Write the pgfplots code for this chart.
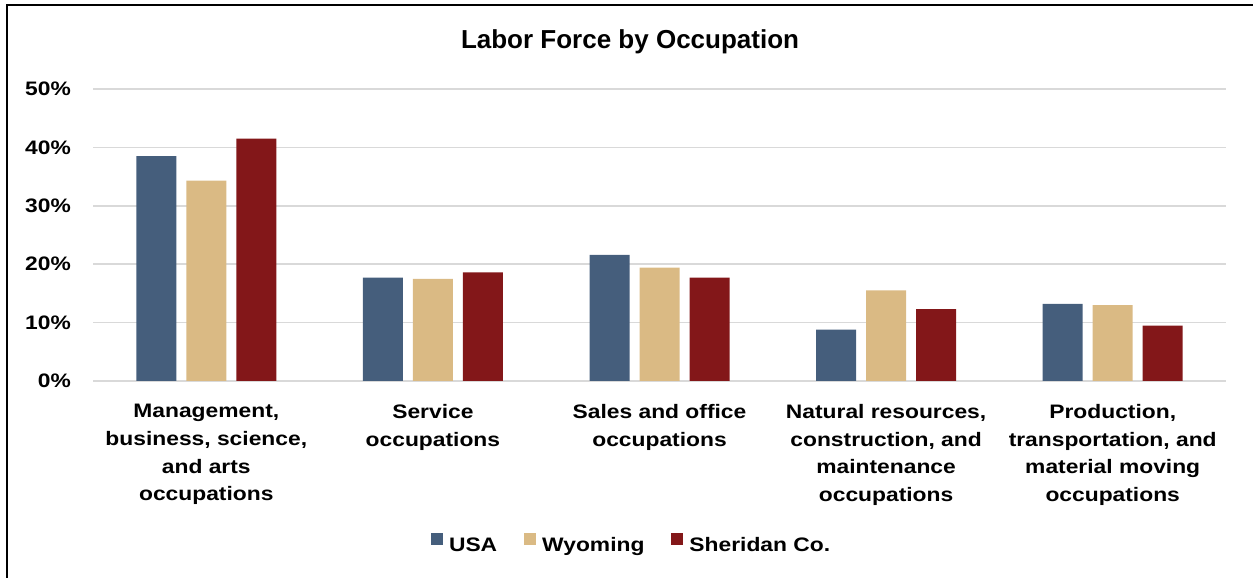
\documentclass[border=0pt]{standalone}
\usepackage{fontspec}
\setmainfont{Liberation Sans}
\newfontfamily\wide{Liberation Sans}[FakeStretch=1.17]
\usepackage{pgfplots}
\pgfplotsset{compat=1.18}
\definecolor{usa}{RGB}{69,94,124}
\definecolor{wyo}{RGB}{218,186,132}
\definecolor{sher}{RGB}{131,23,25}
\definecolor{gridc}{RGB}{217,217,217}
\newcommand{\lbl}{\wide\bfseries\fontsize{19.5bp}{24bp}\selectfont}
\begin{document}
\begin{tikzpicture}[x=1bp,y=1bp]
\useasboundingbox (0,0) rectangle (1253,578);
\begin{axis}[
  at={(93bp,197bp)}, anchor=south west,
  width=1133bp, height=292bp, scale only axis,
  xmin=-0.5, xmax=4.5, ymin=0, ymax=50,
  ybar=10bp, bar width=40bp,
  axis line style={draw=none},
  major tick length=0pt,
  ymajorgrids, grid style={gridc, line width=1.6bp},
  ytick={0,10,20,30,40,50},
  yticklabels={{0\%},{10\%},{20\%},{30\%},{40\%},{50\%}},
  yticklabel style={font=\lbl, anchor=east, inner sep=0pt, xshift=-22bp},
  xtick={0,1,2,3,4},
  xticklabels={{Management,\\business, science,\\and arts\\occupations},
               {Service\\occupations},
               {Sales and office\\occupations},
               {Natural resources,\\construction, and\\maintenance\\occupations},
               {Production,\\transportation, and\\material moving\\occupations}},
  xticklabel style={font=\wide\bfseries\fontsize{19.5bp}{27.7bp}\selectfont, align=center, anchor=north, inner sep=0pt, yshift=-23bp},
  title={Labor Force by Occupation},
  title style={font=\bfseries\fontsize{26bp}{30bp}\selectfont, at={(0.474,1.117)}, anchor=base, inner sep=0pt},
  legend columns=3,
  legend style={at={(0.4745,-0.555)}, anchor=center, draw=none, fill=none,
    font=\lbl,
    nodes={inner sep=0pt},
    /tikz/every odd column/.append style={column sep=6bp},
    /tikz/every even column/.append style={column sep=27bp}},
  legend image code/.code={\fill[#1] (0bp,0bp) rectangle (12bp,12bp);},
]
\addplot[fill=usa, draw=none] coordinates {(0,38.5) (1,17.7) (2,21.6) (3,8.8) (4,13.2)};
\addplot[fill=wyo, draw=none] coordinates {(0,34.3) (1,17.5) (2,19.4) (3,15.5) (4,13.0)};
\addplot[fill=sher, draw=none] coordinates {(0,41.5) (1,18.6) (2,17.7) (3,12.3) (4,9.5)};
\legend{USA, Wyoming, Sheridan Co.}
\end{axis}
\draw[line width=2bp] (6.7,0) -- (6.7,572.7) -- (1253,572.7);
\end{tikzpicture}
\end{document}
